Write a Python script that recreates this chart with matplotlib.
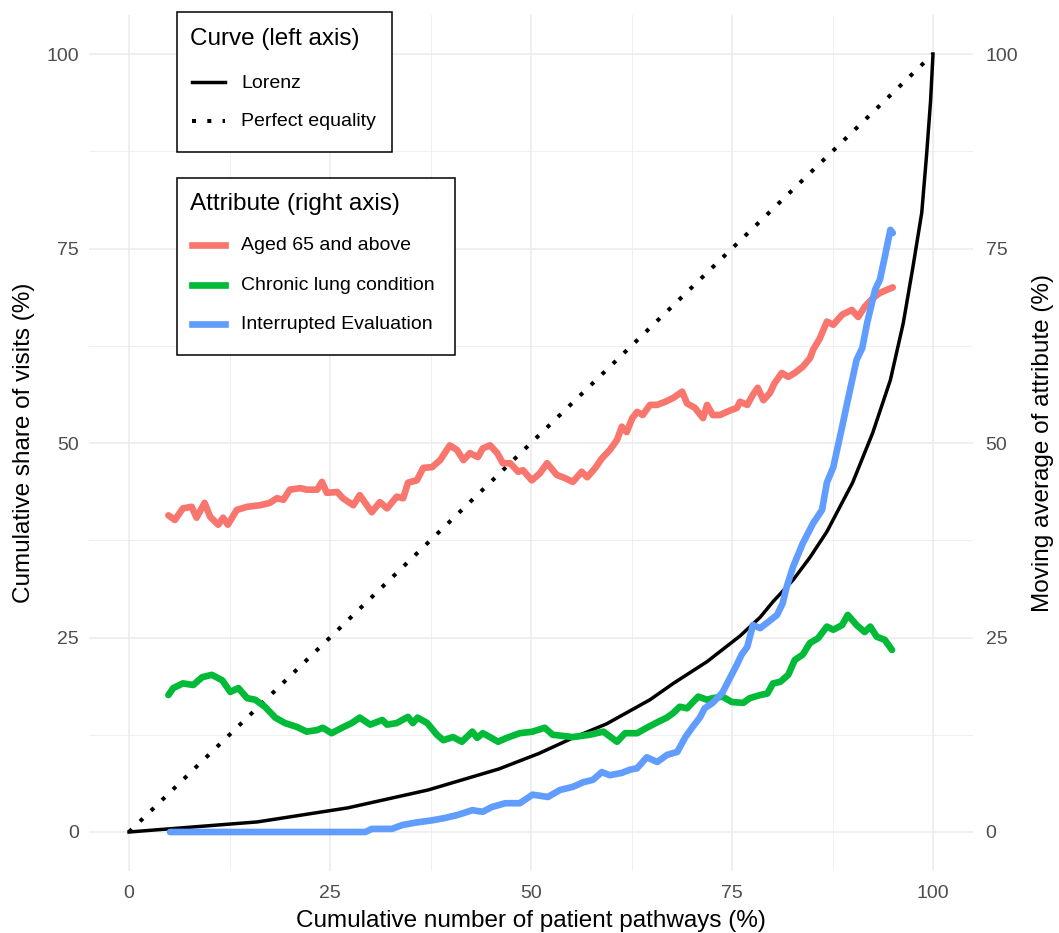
import numpy as np
import matplotlib
matplotlib.use("Agg")
import matplotlib.pyplot as plt
from matplotlib.lines import Line2D
from matplotlib.patches import Rectangle

plt.rcParams["font.family"] = ["Liberation Sans", "DejaVu Sans"]

### Lorenz curve (left axis)
lorenz_x = [0, 16, 27.2, 37.2, 46, 51, 55, 59.4, 64.8, 67.7, 71.9, 76, 78.5, 80.1,
            82.6, 84.7, 86.8, 90, 92.5, 94.7, 96.3, 97.5, 98.6, 99.2, 99.7, 100]
lorenz_y = [0, 1.3, 3.1, 5.4, 8.1, 10.1, 12.0, 13.9, 17.0, 19.1, 21.9, 25.2, 27.6, 29.6,
            32.4, 35.3, 38.6, 44.9, 51.3, 58.1, 65.4, 72.6, 79.6, 87.0, 94.0, 100]
equality_x = [0, 100]
equality_y = [0, 100]

### Moving averages of attributes (right axis)
aged_x = [4.9, 5.7, 6.7, 7.8, 8.4, 9.4, 10.1, 11.1, 11.7, 12.3,
          13.4, 14.7, 16.3, 17.5, 18.4, 19.2, 20.0, 21.3, 22.1, 23.4,
          24.0, 24.6, 25.9, 26.6, 27.9, 28.7, 30.2, 31.2, 32.1, 33.3,
          34.1, 34.7, 35.8, 36.6, 37.7, 38.7, 39.9, 40.8, 41.6, 42.4,
          43.4, 44.0, 44.9, 45.8, 46.5, 47.4, 48.4, 49.0, 50.1, 51.1,
          52.0, 53.2, 54.2, 55.2, 56.3, 57.0, 58.0, 58.8, 59.8, 60.7,
          61.3, 61.9, 62.6, 63.2, 63.9, 64.8, 65.7, 66.7, 67.7, 68.8,
          69.4, 70.4, 71.4, 71.9, 72.6, 73.5, 74.8, 75.6, 76.0, 76.9,
          77.6, 78.2, 78.9, 79.7, 80.3, 81.2, 82.0, 82.8, 83.8, 84.7,
          85.1, 85.9, 86.8, 87.6, 88.7, 89.9, 90.7, 91.5, 92.5, 93.4,
          94.3, 95.0]
aged_y = [40.7, 40.1, 41.6, 41.8, 40.4, 42.3, 40.5, 39.5, 40.4, 39.5,
          41.4, 41.8, 42.0, 42.3, 42.9, 42.7, 44.0, 44.2, 44.0, 44.0,
          45.0, 43.6, 43.7, 42.9, 42.0, 43.3, 41.1, 42.4, 41.6, 43.1,
          42.9, 44.9, 45.2, 46.8, 46.9, 47.8, 49.7, 49.1, 47.8, 48.7,
          48.2, 49.3, 49.7, 48.7, 47.4, 47.4, 46.3, 46.5, 45.2, 46.1,
          47.4, 45.9, 45.5, 45.0, 46.3, 45.6, 46.8, 48.0, 49.1, 50.4,
          52.1, 51.4, 53.2, 54.0, 53.6, 54.9, 54.9, 55.3, 55.8, 56.6,
          55.1, 54.5, 53.2, 54.9, 53.6, 53.6, 54.2, 54.5, 55.3, 54.9,
          56.2, 57.1, 55.5, 56.4, 57.7, 59.0, 58.5, 59.0, 59.8, 60.9,
          62.0, 63.4, 65.6, 65.2, 66.5, 67.1, 66.2, 67.5, 68.6, 69.3,
          69.7, 70.0]

lung_x = [4.9, 5.5, 6.7, 8.0, 9.1, 10.3, 11.6, 12.6, 13.6, 14.7,
          15.7, 16.9, 18.2, 19.4, 20.9, 22.1, 23.4, 24.1, 25.2, 26.5,
          27.7, 28.7, 30.0, 31.5, 32.1, 33.3, 34.7, 35.3, 35.9, 37.1,
          38.3, 39.1, 40.3, 41.4, 42.7, 43.3, 44.0, 44.9, 45.9, 47.0,
          48.6, 50.2, 51.7, 52.7, 55.2, 57.3, 59.0, 60.7, 61.7, 63.2,
          64.4, 65.7, 66.9, 67.7, 68.5, 69.4, 70.8, 71.9, 72.6, 73.8,
          75.0, 76.4, 77.2, 78.5, 79.4, 80.1, 81.0, 82.0, 82.8, 83.8,
          84.7, 85.7, 86.8, 87.6, 88.7, 89.4, 90.5, 91.5, 92.2, 93.0,
          94.0, 94.9]
lung_y = [17.6, 18.5, 19.1, 18.9, 19.9, 20.2, 19.5, 18.0, 18.5, 17.2,
          17.0, 16.1, 14.7, 14.0, 13.5, 12.9, 13.1, 13.4, 12.7, 13.4,
          14.0, 14.7, 13.8, 14.4, 13.8, 14.0, 14.8, 14.0, 14.7, 14.0,
          12.5, 11.8, 12.2, 11.6, 12.9, 12.1, 12.7, 12.2, 11.6, 12.1,
          12.7, 12.9, 13.4, 12.5, 12.2, 12.5, 12.9, 11.6, 12.7, 12.7,
          13.4, 14.1, 14.7, 15.3, 16.1, 15.9, 17.4, 17.0, 17.2, 17.4,
          16.7, 16.6, 17.2, 17.6, 17.8, 19.1, 19.3, 20.2, 22.1, 22.8,
          24.3, 24.9, 26.4, 26.0, 26.6, 27.9, 26.6, 25.7, 26.4, 25.1,
          24.7, 23.4]

interrupted_x = [5.1, 29.4, 30.2, 32.7, 34.0, 35.6, 37.7, 39.3, 40.9, 42.7,
                 44.0, 45.1, 46.8, 48.6, 50.2, 52.1, 53.6, 55.2, 56.5, 57.7,
                 58.8, 59.8, 61.3, 62.3, 63.2, 64.4, 65.7, 66.9, 68.2, 69.2,
                 70.1, 71.0, 71.6, 72.6, 73.8, 74.8, 75.6, 76.2, 76.9, 77.6,
                 78.5, 79.5, 80.6, 81.3, 81.8, 82.6, 83.8, 85.1, 86.2, 86.8,
                 87.6, 88.7, 89.4, 90.5, 91.2, 91.8, 92.8, 93.4, 94.0, 94.7,
                 95.0]
interrupted_y = [0, 0, 0.4, 0.4, 0.9, 1.2, 1.5, 1.8, 2.2, 2.8,
                 2.6, 3.2, 3.7, 3.7, 4.8, 4.5, 5.4, 5.8, 6.4, 6.7,
                 7.7, 7.3, 7.6, 8.0, 8.2, 9.6, 9.0, 9.9, 10.3, 12.2,
                 13.5, 14.7, 15.9, 16.6, 17.9, 19.9, 21.5, 22.8, 23.8, 26.6,
                 26.2, 27.0, 27.9, 29.4, 31.5, 34.1, 37.1, 39.7, 41.4, 44.9,
                 46.9, 52.1, 55.5, 60.7, 62.2, 65.4, 69.7, 71.0, 73.9, 77.4,
                 77.0]

attributes = [
    ("Aged 65 and above", aged_x, aged_y, "#F8766D"),
    ("Chronic lung condition", lung_x, lung_y, "#00BA38"),
    ("Interrupted Evaluation", interrupted_x, interrupted_y, "#619CFF"),
]

ticks = [0, 25, 50, 75, 100]
minor_ticks = [12.5, 37.5, 62.5, 87.5]

W, H = 1059, 933
fig = plt.figure(figsize=(W / 100, H / 100), dpi=100)
ax = fig.add_axes([88.8 / W, (H - 870.9) / H, 884.4 / W, 855.8 / H])

dots = (0, (1, 2.8))
lorenz_lw = 2.5
attr_lw = 4.8
ax.plot(lorenz_x, lorenz_y, color="black", lw=lorenz_lw, zorder=3)
ax.plot(equality_x, equality_y, color="black", lw=2.9, linestyle=dots,
        dash_capstyle="butt", zorder=3)

for name, xs, ys, col in attributes:
    ax.plot(xs, ys, color=col, lw=attr_lw, solid_capstyle="round",
            solid_joinstyle="round", zorder=4)

ax.set_xlim(-5, 105)
ax.set_ylim(-5, 105)
ax.set_xticks(ticks)
ax.set_yticks(ticks)
ax.set_xticks(minor_ticks, minor=True)
ax.set_yticks(minor_ticks, minor=True)
ax.grid(which="major", color="#EBEBEB", lw=1.1, zorder=0)
ax.grid(which="minor", color="#EBEBEB", lw=0.55, zorder=0)
ax.set_axisbelow(True)
for s in ax.spines.values():
    s.set_visible(False)
ax.tick_params(which="both", length=0, labelsize=14, labelcolor="#4D4D4D", pad=7)
ax.tick_params(axis="x", pad=10)
ax.set_xlabel("Cumulative number of patient pathways (%)", fontsize=17.5, labelpad=6)
ax.set_ylabel("Cumulative share of visits (%)", fontsize=17.5, labelpad=8)

ax2 = ax.twinx()
ax2.set_ylim(-5, 105)
ax2.set_yticks(ticks)
for s in ax2.spines.values():
    s.set_visible(False)
ax2.tick_params(length=0, labelsize=14, labelcolor="#4D4D4D", pad=9)
ax2.set_ylabel("Moving average of attribute (%)", fontsize=17.5, labelpad=10)
ax2.set_position(ax.get_position())


### Legends drawn by hand, positions in figure pixels
def fx(x):
    return x / W


def fy(y):
    return 1 - y / H


def draw_legend(box, title, title_y, rows):
    x0, y0, x1, y1 = box
    fig.patches.append(Rectangle((fx(x0), fy(y1)), fx(x1) - fx(x0), fy(y0) - fy(y1),
                                 transform=fig.transFigure, facecolor="white",
                                 edgecolor="black", lw=1.1, zorder=10))
    fig.text(fx(190), fy(title_y), title, fontsize=17.5, ha="left", va="center",
             zorder=11)
    for label, ry, style in rows:
        fig.add_artist(Line2D([fx(192), fx(225)], [fy(ry), fy(ry)],
                              transform=fig.transFigure, zorder=11, **style))
        fig.text(fx(241), fy(ry + 1), label, fontsize=14, ha="left", va="center",
                 zorder=11)


draw_legend((177, 12, 392, 152), "Curve (left axis)", 39, [
    ("Lorenz", 82, dict(color="black", lw=lorenz_lw)),
    ("Perfect equality", 121, dict(color="black", lw=2.9, linestyle=dots,
                                   dash_capstyle="butt")),
])
draw_legend((177, 178, 455, 355), "Attribute (right axis)", 204, [
    (name, ry, dict(color=col, lw=attr_lw))
    for (name, _, _, col), ry in zip(attributes, [245, 285, 324])
])

fig.savefig("out.png", dpi=100)
